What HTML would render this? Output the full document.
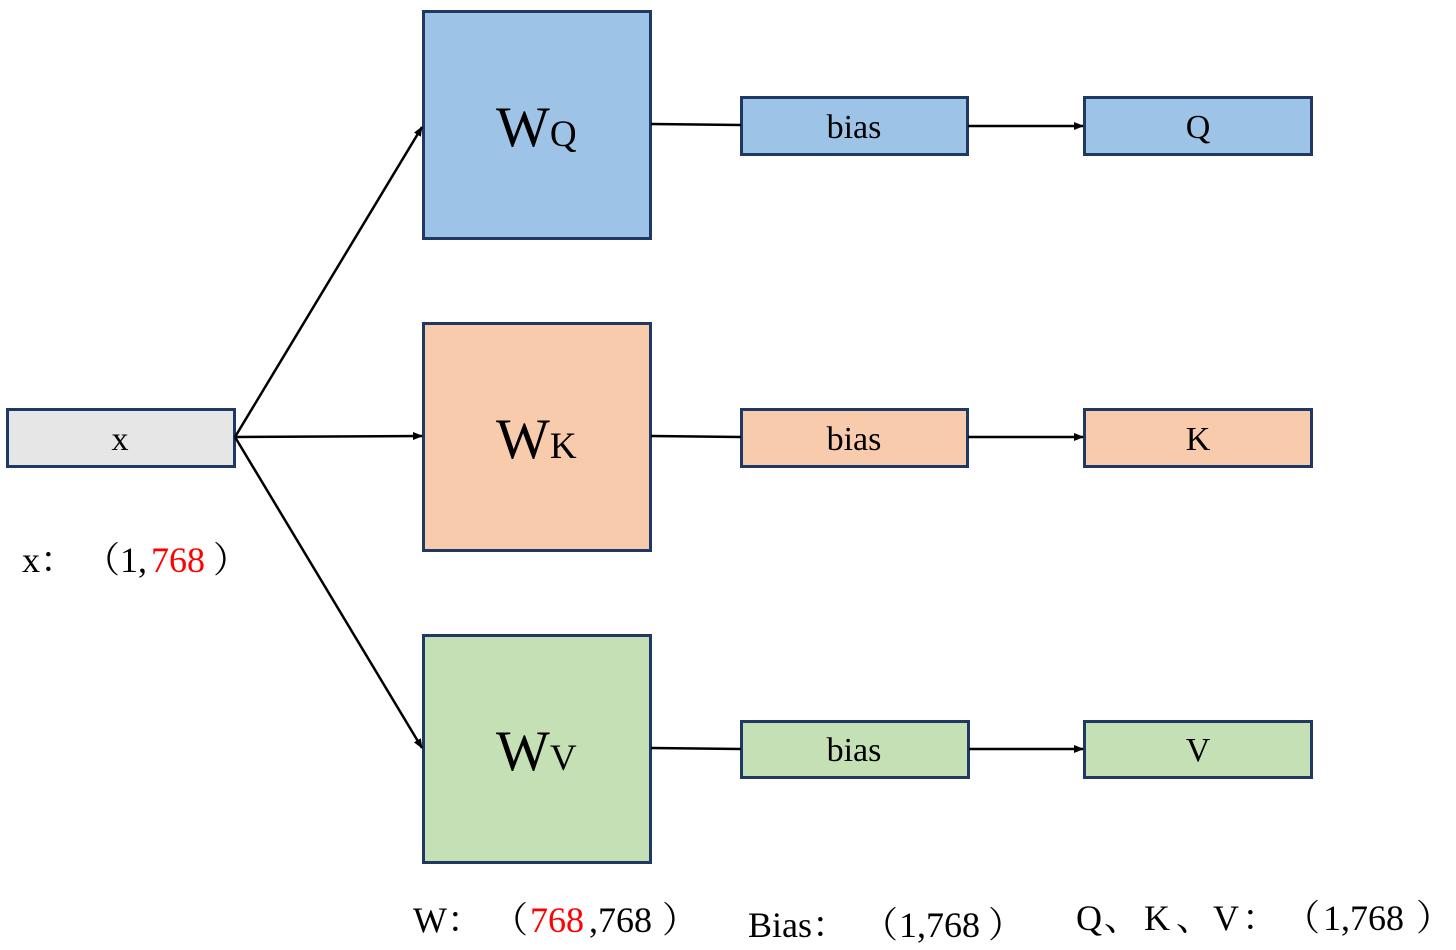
<!DOCTYPE html>
<html><head><meta charset="utf-8"><style>body{margin:0;background:#fff}svg{display:block}</style></head><body>
<svg width="1456" height="950" viewBox="0 0 1456 950" xmlns="http://www.w3.org/2000/svg" font-family="'Liberation Serif','Noto Serif CJK SC',serif">
<defs><marker id="a" markerWidth="10" markerHeight="8" refX="9" refY="4" orient="auto" markerUnits="userSpaceOnUse"><path d="M0,0 L10,4 L0,8z" fill="#000"/></marker></defs>
<g stroke="#1F3864" stroke-width="3">
<rect x="7.5" y="409.5" width="227" height="57" fill="#E7E6E6"/>
<rect x="423.5" y="11.5" width="227" height="227" fill="#9DC3E6"/>
<rect x="423.5" y="323.5" width="227" height="227" fill="#F8CBAD"/>
<rect x="423.5" y="635.5" width="227" height="227" fill="#C5E0B4"/>
<rect x="741.5" y="97.5" width="226" height="57" fill="#9DC3E6"/>
<rect x="741.5" y="409.5" width="226" height="57" fill="#F8CBAD"/>
<rect x="741.5" y="721.5" width="227" height="56" fill="#C5E0B4"/>
<rect x="1084.5" y="97.5" width="227" height="57" fill="#9DC3E6"/>
<rect x="1084.5" y="409.5" width="227" height="57" fill="#F8CBAD"/>
<rect x="1084.5" y="721.5" width="227" height="56" fill="#C5E0B4"/>
</g>
<g stroke="#000" stroke-width="2.5" fill="none">
<line x1="235" y1="437" x2="422" y2="127" marker-end="url(#a)"/>
<line x1="235" y1="437" x2="422" y2="436" marker-end="url(#a)"/>
<line x1="235" y1="437" x2="422" y2="748" marker-end="url(#a)"/>
<line x1="651" y1="124" x2="741" y2="125"/>
<line x1="651" y1="436" x2="741" y2="437"/>
<line x1="651" y1="748" x2="741" y2="749"/>
<line x1="968" y1="126" x2="1083" y2="126" marker-end="url(#a)"/>
<line x1="968" y1="437" x2="1083" y2="437" marker-end="url(#a)"/>
<line x1="969" y1="749" x2="1083" y2="749" marker-end="url(#a)"/>
</g>
<g font-size="34" text-anchor="middle" fill="#000">
<text x="120" y="450">x</text>
<text x="854" y="138">bias</text><text x="854" y="450">bias</text><text x="854" y="761">bias</text>
<text x="1198" y="138">Q</text><text x="1198" y="450">K</text><text x="1198" y="761">V</text>
</g>
<g fill="#000">
<text x="496" y="146" font-size="57">W<tspan font-size="37">Q</tspan></text>
<text x="496" y="458" font-size="57">W<tspan font-size="37">K</tspan></text>
<text x="496" y="770" font-size="57">W<tspan font-size="37">V</tspan></text>
</g>
<g font-size="36" fill="#000">
<text x="22" y="572">x：</text><text x="84" y="572">（</text><text x="120" y="572">1,</text><text x="151" y="572" fill="#f00">768</text><text x="213" y="572">）</text>
<text x="413" y="932">W：</text><text x="492" y="932">（</text><text x="530" y="932" fill="#f00">768</text><text x="589" y="932">,768</text><text x="662" y="932">）</text>
<text x="748" y="937">Bias：</text><text x="862" y="937">（</text><text x="899" y="937">1,768</text><text x="988" y="937">）</text>
<text x="1076" y="930">Q</text><text x="1104" y="930">、</text><text x="1144" y="930">K</text><text x="1176" y="930">、</text><text x="1213" y="930">V</text><text x="1242" y="930">：</text><text x="1284" y="930">（</text><text x="1323" y="930">1,768</text><text x="1416" y="930">）</text>
</g>
</svg>
</body></html>
